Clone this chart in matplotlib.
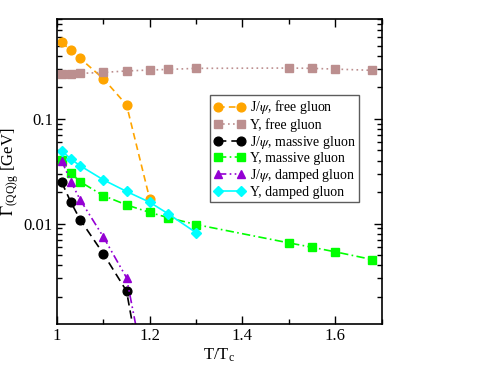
import matplotlib
matplotlib.use('Agg')
import matplotlib.pyplot as plt
from matplotlib.ticker import FixedLocator, NullFormatter, LogLocator

plt.rcParams['font.family'] = ['Liberation Serif', 'DejaVu Serif']
plt.rcParams['mathtext.fontset'] = 'stix'

# J/psi, free gluon
x_jpsi_free = [1.01, 1.03, 1.05, 1.10, 1.15, 1.20]
y_jpsi_free = [0.537, 0.454, 0.378, 0.242, 0.136, 0.0172]

# Upsilon, free gluon
x_ups_free = [1.01, 1.03, 1.05, 1.10, 1.15, 1.20, 1.24, 1.30, 1.50, 1.55, 1.60, 1.68]
y_ups_free = [0.268, 0.268, 0.272, 0.278, 0.287, 0.293, 0.297, 0.304, 0.306, 0.304, 0.299, 0.291]

# J/psi, massive gluon
x_jpsi_mass = [1.01, 1.03, 1.05, 1.10, 1.15, 1.20]
y_jpsi_mass = [0.0249, 0.0160, 0.0109, 0.00515, 0.00227, 0.000133]

# Upsilon, massive gluon
x_ups_mass = [1.01, 1.03, 1.05, 1.10, 1.15, 1.20, 1.24, 1.30, 1.50, 1.55, 1.60, 1.68]
y_ups_mass = [0.0407, 0.0304, 0.0251, 0.0185, 0.0151, 0.0128, 0.0114, 0.0098, 0.00655, 0.00595, 0.00538, 0.00454]

# J/psi, damped gluon
x_jpsi_damp = [1.01, 1.03, 1.05, 1.10, 1.15, 1.20]
y_jpsi_damp = [0.0400, 0.0251, 0.0169, 0.00747, 0.00304, 0.000222]

# Upsilon, damped gluon
x_ups_damp = [1.01, 1.03, 1.05, 1.10, 1.15, 1.20, 1.24, 1.30]
y_ups_damp = [0.0499, 0.0413, 0.0357, 0.0262, 0.0203, 0.0160, 0.0124, 0.0082]

fig = plt.figure(figsize=(4.94, 3.82), dpi=100)
ax = fig.add_axes([0.1154, 0.1518, 0.6569, 0.7985])

ax.plot(x_jpsi_free, y_jpsi_free, color='#FFA500', ls=(0, (4, 2.5)), lw=1.2,
        marker='o', ms=6.3, label=r'J/$\psi$, free gluon')
ax.plot(x_ups_free, y_ups_free, color='#BC8F8F', ls=(0, (1, 2)), lw=1.2,
        marker='s', ms=5.6, label='Υ, free gluon')
ax.plot(x_jpsi_mass, y_jpsi_mass, color='black', ls=(0, (5, 3)), lw=1.2,
        marker='o', ms=6.3, label=r'J/$\psi$, massive gluon')
ax.plot(x_ups_mass, y_ups_mass, color='#00FF00', ls=(0, (5, 2, 1, 2)), lw=1.2,
        marker='s', ms=5.6, label='Υ, massive gluon')
ax.plot(x_jpsi_damp, y_jpsi_damp, color='#9400D3', ls=(0, (5, 2, 1, 2, 1, 2)), lw=1.2,
        marker='^', ms=6.3, label=r'J/$\psi$, damped gluon')
ax.plot(x_ups_damp, y_ups_damp, color='#00FFFF', ls='-', lw=1.2,
        marker='D', ms=4.8, label='Υ, damped gluon')

ax.set_yscale('log')
ax.set_xlim(1.0, 1.7)
ax.set_ylim(0.0011, 0.9)

ax.xaxis.set_major_locator(FixedLocator([1.0, 1.2, 1.4, 1.6]))
ax.xaxis.set_minor_locator(FixedLocator([1.1, 1.3, 1.5, 1.7]))
ax.set_xticklabels(['1', '1.2', '1.4', '1.6'])
ax.yaxis.set_major_locator(FixedLocator([0.01, 0.1]))
ax.set_yticklabels(['0.01', '0.1'])
ax.yaxis.set_minor_locator(LogLocator(base=10, subs=range(2, 10)))
ax.yaxis.set_minor_formatter(NullFormatter())

ax.tick_params(which='both', direction='in', top=True, right=True, labelsize=12)
ax.tick_params(which='major', length=6, width=1, pad=3)
ax.tick_params(which='minor', length=3.5, width=1)
for s in ax.spines.values():
    s.set_linewidth(1.2)

ax.set_xlabel(r'T/T$_\mathregular{c}$', fontsize=12, labelpad=2)
ax.set_ylabel(r'$\Gamma_{\mathregular{(QQ)g}}$ [GeV]', fontsize=12, labelpad=2)

leg = ax.legend(loc='upper left', bbox_to_anchor=(0.472, 0.751), numpoints=2,
                fontsize=10, frameon=True, fancybox=False, handlelength=2.3,
                handletextpad=0.3, labelspacing=0.12, borderpad=0.25,
                borderaxespad=0.0)
leg.get_frame().set_edgecolor('#333333')
leg.get_frame().set_linewidth(1.0)

fig.savefig('out.png', dpi=100)
